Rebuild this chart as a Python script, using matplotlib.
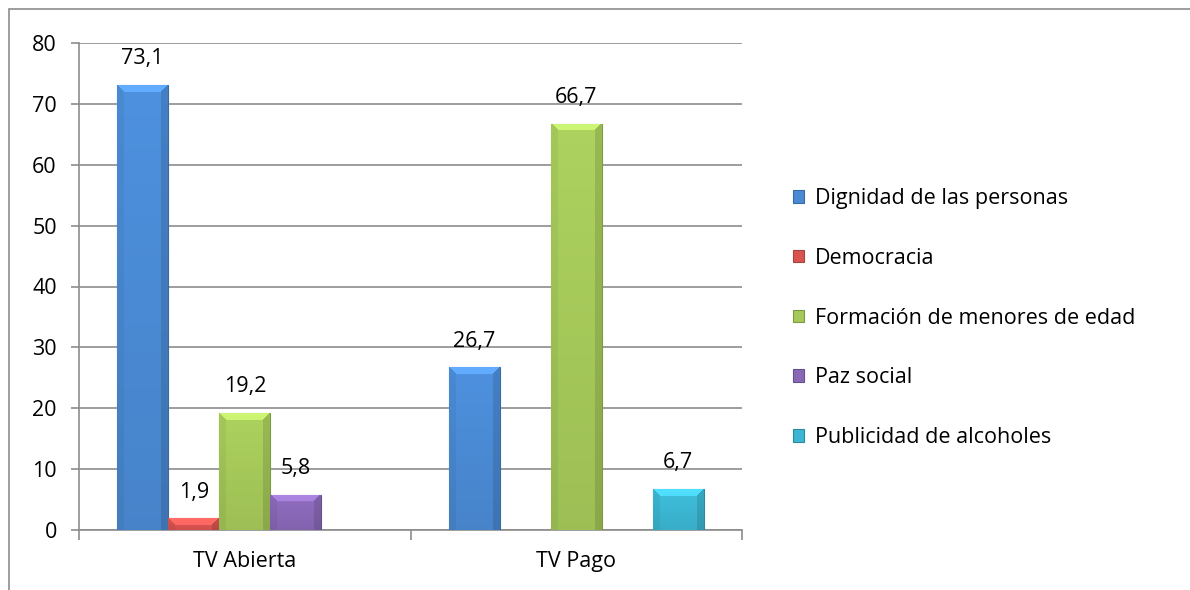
import numpy as np
import matplotlib
matplotlib.use("Agg")
import matplotlib.pyplot as plt
from matplotlib.patches import Rectangle, Patch
from matplotlib.colors import to_rgb

plt.rcParams['font.family'] = ['Open Sans', 'DejaVu Sans']

categories = ['TV Abierta', 'TV Pago']
series = ['Dignidad de las personas', 'Democracia', 'Formación de menores de edad',
          'Paz social', 'Publicidad de alcoholes']
values = [
    [73.1, 26.7],           # Dignidad de las personas
    [1.9, np.nan],          # Democracia
    [19.2, 66.7],           # Formación de menores de edad
    [5.8, np.nan],          # Paz social
    [np.nan, 6.7],          # Publicidad de alcoholes
]
labels = [
    ['73,1', '26,7'],
    ['1,9', ''],
    ['19,2', '66,7'],
    ['5,8', ''],
    ['', '6,7'],
]
colors = ['#4a8ad4', '#d9534f', '#a5c85a', '#8a68b8', '#3cb6d2']
edges = ['#3a6aa0', '#a84440', '#7e9a40', '#65508a', '#2c8aa0']

FS = 15.5
fig = plt.figure(figsize=(11.9, 5.9), dpi=100)
ax = fig.add_axes([79 / 1190, 60 / 590, 663 / 1190, 487 / 590])

# chart border (left & top visible)
fig.patches.append(Rectangle((9 / 1190, -0.1), 1.2, (581 / 590) + 0.1, transform=fig.transFigure,
                             fill=False, edgecolor='#8c8c8c', lw=1.2, zorder=0))

x = np.arange(len(categories))
w = 1 / 6.5
px_per_unit = 487 / 80


def bevel_image(base, dark, hpx, wpx=51, b=7):
    hpx = max(int(round(hpx)), 2)
    rows = np.arange(hpx)[:, None]          # 0 = top
    cols = np.arange(wpx)[None, :]
    t = np.broadcast_to(rows / max(hpx - 1, 1), (hpx, wpx))[..., None]
    img = (1 - t) * np.minimum(base * 1.05, 1) + t * (0.8 * base + 0.2 * dark)
    dl, dr = cols, wpx - 1 - cols
    side = np.minimum(dl, dr)
    top = (rows < b) & (rows < side)
    left = (dl < b) & ~top
    right = (dr < b) & ~top
    img[top] = np.minimum(img[top] * 1.12 + 0.04, 1)
    img[left] *= 0.95
    img[right] *= 0.88
    return img


for i, name in enumerate(series):
    vals = np.array(values[i], dtype=float)
    bars = ax.bar(x + (i - 2) * w, np.nan_to_num(vals), w, color=colors[i],
                  edgecolor=edges[i], lw=0.8, zorder=3, label=name)
    base = np.array(to_rgb(colors[i]))
    dark = np.array(to_rgb(edges[i]))
    for b, v, lab in zip(bars, vals, labels[i]):
        if np.isnan(v):
            b.set_visible(False)
            continue
        x0, y0 = b.get_x(), b.get_y()
        img = bevel_image(base, dark, b.get_height() * px_per_unit)
        im = ax.imshow(img, aspect='auto', origin='upper', zorder=3.5, interpolation='bilinear',
                       extent=[x0, x0 + b.get_width(), y0, y0 + b.get_height()])
        im.set_clip_path(b)
        ax.annotate(lab, (b.get_x() + b.get_width() / 2, v), xytext=(0, 19),
                    textcoords='offset points', ha='center', va='center', fontsize=FS)

ax.set_xlim(-0.5, 1.5)
ax.set_ylim(0, 80)
ax.set_yticks(range(0, 81, 10))
ax.set_xticks(x)
ax.set_xticklabels(categories)
ax.set_xticks([-0.5, 0.5, 1.5], minor=True)
ax.tick_params(axis='x', which='major', length=0, pad=15, labelsize=FS)
ax.tick_params(axis='x', which='minor', length=7, color='#8c8c8c', width=1.2)
ax.tick_params(axis='y', length=6, color='#8c8c8c', width=1.2, pad=10, labelsize=FS)
ax.yaxis.grid(True, color='#8c8c8c', lw=1.2, zorder=0)
ax.set_axisbelow(True)
for s in ['top', 'right']:
    ax.spines[s].set_visible(False)
for s in ['left', 'bottom']:
    ax.spines[s].set_color('#8c8c8c')
    ax.spines[s].set_linewidth(1.2)

handles = [Patch(facecolor=colors[i], edgecolor=edges[i], lw=0.8) for i in range(len(series))]
ax.legend(handles, series, loc='center left', bbox_to_anchor=(793 / 1190, 272 / 590),
          bbox_transform=fig.transFigure, frameon=False, fontsize=FS,
          handlelength=0.52, handleheight=0.52, handletextpad=0.5, labelspacing=1.8,
          borderpad=0, borderaxespad=0)

fig.savefig('out.png', dpi=100)
